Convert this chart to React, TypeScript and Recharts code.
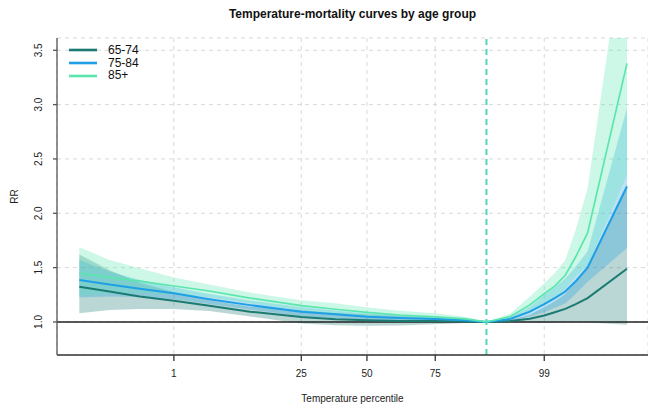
import { Area, CartesianGrid, ComposedChart, Label, Line, ReferenceLine, XAxis, YAxis } from 'recharts'

// temperature (°C) at each evaluation point of the exposure-response curve
const temps = [-10.3, -8.0, -5.7, -3.1, -0.4, 2.7, 6.6, 9.2, 11.6, 14.1, 16.8, 19.1, 20.7, 22.5, 24.0, 25.1, 25.9, 26.7, 27.5, 28.4, 31.4]

const rr6574 = [1.325, 1.28, 1.235, 1.195, 1.15, 1.095, 1.045, 1.025, 1.015, 1.01, 1.008, 1.004, 1.0, 1.008, 1.03, 1.06, 1.09, 1.12, 1.165, 1.22, 1.49]
const lo6574 = [1.08, 1.11, 1.12, 1.12, 1.1, 1.05, 0.985, 0.97, 0.965, 0.968, 0.978, 0.99, 1.0, 0.998, 0.995, 0.99, 0.995, 0.998, 0.997, 0.995, 0.975]
const hi6574 = [1.62, 1.475, 1.36, 1.275, 1.2, 1.14, 1.108, 1.083, 1.068, 1.054, 1.039, 1.018, 1.0, 1.018, 1.066, 1.135, 1.19, 1.257, 1.37, 1.52, 2.27]

const rr7584 = [1.387, 1.345, 1.305, 1.264, 1.21, 1.155, 1.095, 1.07, 1.049, 1.037, 1.028, 1.015, 1.0, 1.027, 1.095, 1.165, 1.22, 1.28, 1.375, 1.5, 2.246]
const lo7584 = [1.225, 1.235, 1.23, 1.21, 1.165, 1.115, 1.055, 1.035, 1.02, 1.012, 1.01, 1.005, 1.0, 1.012, 1.05, 1.09, 1.13, 1.17, 1.26, 1.37, 1.68]
const hi7584 = [1.57, 1.465, 1.385, 1.32, 1.257, 1.197, 1.137, 1.106, 1.079, 1.063, 1.046, 1.025, 1.0, 1.042, 1.14, 1.245, 1.32, 1.4, 1.51, 1.65, 2.97]

const rr85 = [1.448, 1.41, 1.375, 1.331, 1.285, 1.22, 1.15, 1.117, 1.089, 1.064, 1.046, 1.028, 1.0, 1.049, 1.157, 1.26, 1.33, 1.43, 1.6, 1.82, 3.38]
const lo85 = [1.24, 1.265, 1.265, 1.256, 1.228, 1.172, 1.102, 1.065, 1.045, 1.025, 1.013, 1.007, 1.0, 1.024, 1.085, 1.17, 1.22, 1.3, 1.42, 1.52, 2.35]
const hi85 = [1.688, 1.571, 1.494, 1.41, 1.345, 1.27, 1.2, 1.172, 1.135, 1.104, 1.08, 1.049, 1.0, 1.075, 1.233, 1.356, 1.45, 1.57, 1.85, 2.23, 4.72]

// x axis is temperature, labelled with the percentile it corresponds to
const pctLabels = ['1', '25', '50', '75', '99']
const pctTemps = [-3.1, 6.6, 11.6, 16.8, 25.1]
const mmt = 20.7

const yTicks = [1.0, 1.5, 2.0, 2.5, 3.0, 3.5]

const groups = ['65-74', '75-84', '85+']
const COLORS = ['#1B7B73', '#1F9FE5', '#5BE6AE']
const WIDTHS = [2, 2, 1.7]

const FONT = '"Liberation Sans", Arial, Helvetica, sans-serif'

const data = temps.map((t, i) => ({
  t,
  rr0: rr6574[i],
  band0: [lo6574[i], hi6574[i]],
  rr1: rr7584[i],
  band1: [lo7584[i], hi7584[i]],
  rr2: rr85[i],
  band2: [lo85[i], hi85[i]]
}))

function YTick({ x, y, payload }: any) {
  const bx = x - 9
  return (
    <text x={bx} y={y} transform={`rotate(-90, ${bx}, ${y})`} textAnchor="middle"
      fill="#222" fontSize={10} fontFamily={FONT}>
      {Number(payload.value).toFixed(1)}
    </text>
  )
}

function LegendBox() {
  return (
    <div style={{ position: 'absolute', left: 69, top: 44, fontFamily: FONT, fontSize: 12, color: '#111' }}>
      {groups.map((g, i) => (
        <div key={g} style={{ display: 'flex', alignItems: 'center', height: 12.7 }}>
          <svg width={28} height={6} style={{ marginRight: 11 }}>
            <line x1={0} x2={28} y1={3} y2={3} stroke={COLORS[i]} strokeWidth={2.6} />
          </svg>
          <span style={{ lineHeight: '12.7px' }}>{g}</span>
        </div>
      ))}
    </div>
  )
}

export default function App() {
  return (
    <div style={{ position: 'absolute', left: 0, top: 0, width: 648, height: 405, background: '#fff' }}>
      <div style={{
        position: 'absolute', left: 57, top: 6, width: 591, textAlign: 'center',
        fontFamily: FONT, fontWeight: 'bold', fontSize: 12, lineHeight: '16px', color: '#111'
      }}>
        Temperature-mortality curves by age group
      </div>
      <ComposedChart width={648} height={405} data={data} margin={{ top: 38, right: 0, bottom: 0, left: 0 }}>
        <CartesianGrid stroke="#d9d9d9" strokeDasharray="4 4" strokeWidth={1} />
        <XAxis
          dataKey="t" type="number" domain={[-12, 33]} allowDataOverflow
          ticks={pctTemps}
          tickFormatter={(v: number) => pctLabels[pctTemps.indexOf(v)] ?? ''}
          height={50} tickSize={6} tickMargin={9}
          stroke="#333" strokeWidth={1.3}
          tick={{ fill: '#222', fontSize: 10, fontFamily: FONT }}
        >
          <Label content={({ viewBox }: any) => (
            <text x={viewBox.x + viewBox.width / 2} y={viewBox.y + viewBox.height - 3}
              textAnchor="middle" fill="#222" fontSize={10} fontFamily={FONT}>
              Temperature percentile
            </text>
          )} />
        </XAxis>
        <YAxis
          type="number" domain={[0.696, 3.613]} allowDataOverflow
          ticks={yTicks} width={57} tickSize={4}
          stroke="#555" strokeWidth={1.3}
          tick={<YTick />}
        >
          <Label content={({ viewBox }: any) => {
            const lx = viewBox.x + 18
            const ly = viewBox.y + viewBox.height / 2
            return (
              <text x={lx} y={ly} transform={`rotate(-90, ${lx}, ${ly})`} textAnchor="middle"
                fill="#222" fontSize={10} fontFamily={FONT}>
                RR
              </text>
            )
          }} />
        </YAxis>
        {groups.map((g, i) => (
          <Area key={`band-${g}`} type="linear" dataKey={`band${i}`} stroke="none"
            fill={COLORS[i]} fillOpacity={0.3} isAnimationActive={false}
            legendType="none" activeDot={false} />
        ))}
        <ReferenceLine y={1} stroke="#222" strokeWidth={1.5} />
        <ReferenceLine x={mmt} stroke="#4FD5B9" strokeWidth={2} strokeDasharray="6 4" />
        {groups.map((g, i) => (
          <Line key={`line-${g}`} type="linear" dataKey={`rr${i}`} name={g}
            stroke={COLORS[i]} strokeWidth={WIDTHS[i]} dot={false} activeDot={false}
            isAnimationActive={false} />
        ))}
      </ComposedChart>
      <LegendBox />
    </div>
  )
}
